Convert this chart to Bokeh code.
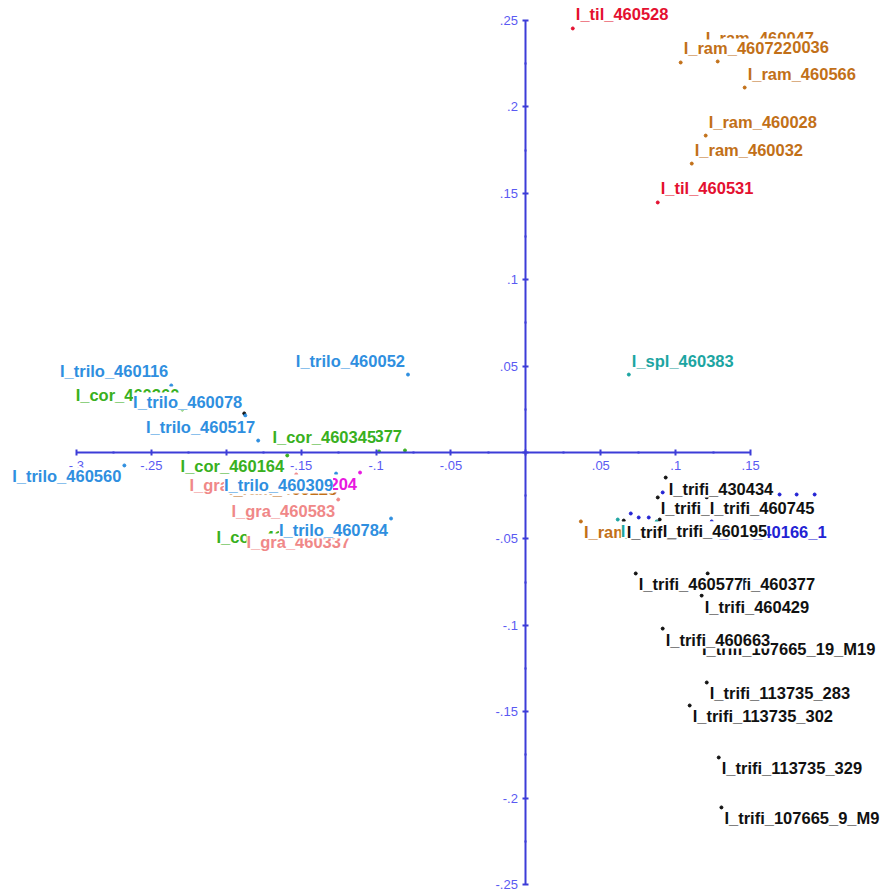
from bokeh.plotting import figure
from bokeh.models import ColumnDataSource, LabelSet, FixedTicker
from bokeh.core.properties import value
from bokeh.embed import file_html
from bokeh.resources import INLINE

# ---------------- data ----------------
point_labels = [
    "I_ram_460047", "I_ram_460036", "I_ram_460722", "I_til_460528", "I_ram_460566",
    "I_ram_460028", "I_ram_460032", "I_til_460531", "I_spl_460383",
    "I_trilo_460116", "I_cor_460360", "I_trilo_460078", "I_trilo_460517",
    "I_trilo_460052", "I_cor_460377", "I_cor_460345",
    "I_trilo_460560", "I_cor_460164", "I_ram_460125", "I_gra_460270",
    "I_lac_460204", "I_trilo_460309", "I_gra_460583", "I_cor_460180",
    "I_gra_460337", "I_trilo_460784",
    "I_trifi_430434", "I_trifi_460199", "I_trifi_460745", "I_ram_460046",
    "I_spl_460384", "I_trifi_460212", "I_bat_40166_1", "I_trifi_460195",
    "I_trifi_460429", "I_trifi_460377", "I_trifi_460577",
    "I_trifi_107665_19_M19", "I_trifi_460663", "I_trifi_113735_283",
    "I_trifi_113735_302", "I_trifi_113735_329", "I_trifi_107665_9_M9",
]
point_x = [
    0.118, 0.128, 0.1033, 0.0313, 0.146,
    0.120, 0.1107, 0.088, 0.0687,
    -0.2367, -0.2293, -0.1873, -0.1787,
    -0.0787, -0.0807, -0.098,
    -0.268, -0.1593, -0.124, -0.1533,
    -0.1107, -0.1267, -0.1253, -0.1353,
    -0.1153, -0.090,
    0.0933, 0.088, 0.1207, 0.0367,
    0.0613, 0.0653, 0.124, 0.0893,
    0.1173, 0.1213, 0.0733,
    0.1155, 0.0913, 0.1207,
    0.1093, 0.1287, 0.1305,
]
point_y = [
    0.2315, 0.2263, 0.2257, 0.2454, 0.2112,
    0.1834, 0.1672, 0.1447, 0.0451,
    0.0388, 0.0249, 0.0214, 0.0069,
    0.0451, 0.0012, 0.0006,
    -0.0075, -0.0017, -0.0150, -0.0127,
    -0.0116, -0.0122, -0.0272, -0.0428,
    -0.0457, -0.0382,
    -0.0145, -0.026, -0.026, -0.0399,
    -0.0388, -0.0394, -0.0399, -0.0388,
    -0.0828, -0.070, -0.070,
    -0.1076, -0.1019, -0.1331,
    -0.1464, -0.1765, -0.2054,
]
point_group = [
    "ram", "ram", "ram", "til", "ram",
    "ram", "ram", "til", "spl",
    "trilo", "cor", "trilo", "trilo",
    "trilo", "cor", "cor",
    "trilo", "cor", "ram", "gra",
    "lac", "trilo", "gra", "cor",
    "gra", "trilo",
    "trifi", "trifi", "trifi", "ram",
    "spl", "trifi", "bat", "trifi",
    "trifi", "trifi", "trifi",
    "trifi", "trifi", "trifi",
    "trifi", "trifi", "trifi",
]

# unlabelled markers visible in the picture
extra_x = [0.0913, 0.070, 0.0753, 0.082, 0.1693, 0.1807, 0.1927, 0.0873, -0.188]
extra_y = [-0.0231, -0.0353, -0.0376, -0.0376, -0.0243, -0.0243, -0.0243, -0.0399, 0.0226]
extra_group = ["bat", "bat", "bat", "bat", "bat", "bat", "bat", "spl", "trifi"]

x_ticks = [-0.3, -0.25, -0.2, -0.15, -0.1, -0.05, 0.0, 0.05, 0.1, 0.15]
x_tick_labels = ["-.3", "-.25", "-.2", "-.15", "-.1", "-.05", "", ".05", ".1", ".15"]
y_ticks = [-0.25, -0.2, -0.15, -0.1, -0.05, 0.0, 0.05, 0.1, 0.15, 0.2, 0.25]
y_tick_labels = ["-.25", "-.2", "-.15", "-.1", "-.05", "", ".05", ".1", ".15", ".2", ".25"]
x_minor = [-0.275, -0.225, -0.175, -0.125, -0.075, -0.025, 0.025, 0.075, 0.125]
y_minor = [-0.225, -0.175, -0.125, -0.075, -0.025, 0.025, 0.075, 0.125, 0.175, 0.225]

# ---------------- style ----------------
group_colors = {
    "trilo": "#2f8fe0",
    "cor": "#38b020",
    "gra": "#f08888",
    "til": "#e41030",
    "ram": "#c27018",
    "spl": "#1ca5a2",
    "trifi": "#111111",
    "bat": "#2222d4",
    "lac": "#e818e0",
}
AXIS_COL = "#3c3cd8"
TICK_LABEL_COL = "#5a5af2"
FONT = "Liberation Sans"

colors = [group_colors[g] for g in point_group]
align = ["left" if xv >= 0 else "right" for xv in point_x]
baseline = ["bottom" if yv >= 0 else "top" for yv in point_y]
xoff = [3 if xv >= 0 else -3 for xv in point_x]
yoff = [5 if yv >= 0 else -2 for yv in point_y]

src = ColumnDataSource(dict(x=point_x, y=point_y, text=point_labels, color=colors,
                            align=align, baseline=baseline, xoff=xoff, yoff=yoff))
extra_src = ColumnDataSource(dict(x=extra_x, y=extra_y,
                                  color=[group_colors[g] for g in extra_group]))

W, H = 883, 894
p = figure(width=W, height=H,
           x_range=(-0.3 - 76 / 1500, 0.15 + (W - 750) / 1500),
           y_range=(-0.25 - (H - 884) / 1728, 0.25 + 20 / 1728),
           output_backend="svg", toolbar_location=None, min_border=0)
p.outline_line_color = None
p.grid.visible = False
p.background_fill_color = "white"

p.xaxis.fixed_location = 0
p.yaxis.fixed_location = 0
p.xaxis.bounds = (-0.3, 0.15)
p.yaxis.bounds = (-0.25, 0.25)
p.xaxis.ticker = FixedTicker(ticks=x_ticks, minor_ticks=x_minor)
p.yaxis.ticker = FixedTicker(ticks=y_ticks, minor_ticks=y_minor)
p.xaxis.major_label_overrides = dict(zip(x_ticks, x_tick_labels))
p.yaxis.major_label_overrides = dict(zip(y_ticks, y_tick_labels))
for ax in (p.xaxis, p.yaxis):
    ax.axis_line_color = AXIS_COL
    ax.axis_line_width = 2
    ax.major_tick_line_color = AXIS_COL
    ax.major_tick_line_width = 2
    ax.minor_tick_line_color = AXIS_COL
    ax.minor_tick_line_width = 2
    ax.major_tick_in = 3
    ax.major_tick_out = 3
    ax.minor_tick_in = 1
    ax.minor_tick_out = 1
    ax.major_label_text_color = TICK_LABEL_COL
    ax.major_label_text_font = FONT
    ax.major_label_text_font_size = "13px"
    ax.major_label_standoff = 5

p.scatter("x", "y", source=extra_src, size=3, color="color")
p.scatter("x", "y", source=src, size=3, color="color")

labels = LabelSet(x="x", y="y", text="text", source=src,
                  x_offset="xoff", y_offset="yoff",
                  text_align="align", text_baseline="baseline",
                  text_color="color", text_font=value(FONT),
                  text_font_style="bold", text_font_size="16.5px",
                  background_fill_color="white", background_fill_alpha=1.0)
p.add_layout(labels)

open("out.html", "w").write(file_html(p, INLINE))
